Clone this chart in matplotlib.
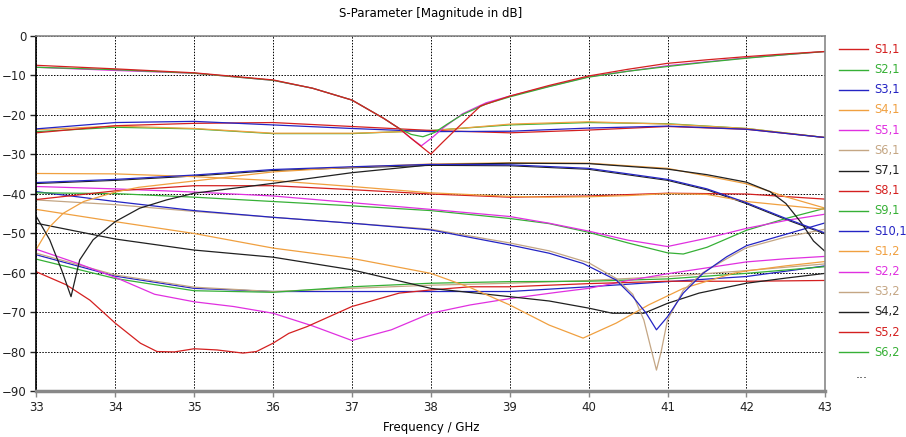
import matplotlib
matplotlib.use('Agg')
import matplotlib.pyplot as plt
from matplotlib.lines import Line2D

RED = '#d42020'
GREEN = '#36b036'
BLUE = '#2424c4'
ORANGE = '#f0a040'
MAGENTA = '#e030e0'
TAN = '#c4a684'
BLACK = '#202020'

# top reflection curves with the dip near 38 GHz
f_top_red = [33, 34, 35, 36, 36.5, 37, 37.4, 37.6, 37.8, 38.0, 38.15, 38.33, 38.63, 39, 39.5, 40, 40.5, 41, 41.5, 42, 42.5, 43]
db_top_red = [-7.5, -8.4, -9.4, -11.2, -13.3, -16.3, -20.9, -23.5, -26.8, -30.0, -27.0, -23.5, -17.8, -15.3, -12.6, -10.2, -8.5, -7.0, -6.1, -5.3, -4.6, -4.0]
f_top_green = [33, 34, 35, 36, 36.5, 37, 37.4, 37.6, 37.75, 37.9, 38.05, 38.2, 38.4, 38.7, 39, 39.5, 40, 40.5, 41, 41.5, 42, 42.5, 43]
db_top_green = [-8.0, -8.6, -9.5, -11.3, -13.3, -16.3, -20.9, -23.5, -25.0, -25.6, -24.5, -22.5, -20.0, -17.3, -15.5, -12.9, -10.5, -9.0, -7.8, -6.7, -5.7, -4.8, -4.0]
f_top_mag = [33, 34, 35, 36, 36.5, 37, 37.4, 37.6, 37.75, 37.88, 38.03, 38.16, 38.4, 38.7, 39, 39.5, 40, 41, 42, 43]
db_top_mag = [-8.0, -8.8, -9.5, -11.3, -13.3, -16.3, -20.9, -23.5, -26.0, -27.9, -25.6, -23.3, -19.8, -17.0, -15.3, -12.8, -10.4, -7.6, -5.6, -4.0]

# coupling curves around -22 .. -26 dB
f_grid = [33, 34, 35, 36, 37, 38, 39, 40, 41, 42, 43]
db_b_blue = [-23.6, -22.0, -21.7, -22.6, -23.5, -24.3, -24.2, -23.4, -22.9, -23.7, -25.8]
db_b_red = [-24.6, -22.8, -22.2, -22.0, -23.0, -24.0, -24.6, -23.9, -23.0, -23.7, -25.8]
db_b_orange = [-23.8, -22.9, -23.5, -24.7, -24.7, -24.1, -22.4, -21.8, -22.4, -23.5, -25.8]
db_b_green = [-24.3, -23.2, -23.6, -24.8, -24.8, -24.0, -22.6, -22.0, -22.3, -23.5, -25.8]

# middle group
f_navy = [33, 34, 35, 36, 37, 38, 39, 40, 41, 41.5, 42, 42.5, 43]
db_navy = [-37.2, -36.4, -35.3, -33.9, -33.2, -32.6, -32.7, -33.6, -36.4, -38.8, -42.3, -46.3, -50.0]
f_orange_flat = [33, 34, 35, 36, 37, 38, 39, 39.5, 40, 40.5, 41, 41.5, 42, 42.5, 43]
db_orange_flat = [-34.9, -35.0, -35.7, -36.7, -38.2, -39.8, -40.7, -40.9, -40.8, -40.5, -40.0, -40.2, -42.0, -43.0, -44.0]
f_black_dip = [33, 33.17, 33.32, 33.44, 33.55, 33.72, 34, 34.31, 34.65, 35, 36, 37, 38, 39, 40, 41, 41.5, 42, 42.3, 42.5, 42.7, 42.85, 43]
db_black_dip = [-45.8, -51.7, -59.3, -66.1, -56.8, -51.7, -47.1, -43.7, -41.6, -39.9, -37.4, -34.7, -32.7, -32.3, -32.4, -33.8, -35.2, -37.1, -39.5, -42.5, -47.5, -52.0, -54.7]
f_orange_rise = [33, 33.17, 33.34, 33.6, 34, 34.3, 35, 36, 37, 38, 39, 40, 41, 42, 42.5, 43]
db_orange_rise = [-54.1, -48.4, -45.0, -42.0, -39.6, -38.4, -36.8, -34.5, -33.3, -32.5, -32.2, -32.3, -33.6, -37.5, -40.8, -43.7]
db_c_red = [-41.5, -39.3, -38.0, -38.0, -39.0, -40.1, -40.9, -40.6, -39.9, -40.1, -41.4]
f_c_mag = [33, 34, 35, 36, 37, 38, 39, 39.5, 40, 40.5, 41, 41.5, 42, 42.5, 43]
db_c_mag = [-38.2, -38.8, -39.6, -40.6, -42.3, -44.0, -45.8, -47.5, -49.5, -51.8, -53.4, -51.3, -48.8, -46.8, -45.2]
f_c_green = [33, 34, 35, 36, 37, 38, 39, 39.5, 40, 40.5, 41, 41.2, 41.5, 42, 42.5, 43]
db_c_green = [-39.8, -40.0, -40.9, -42.0, -43.1, -44.3, -46.3, -47.6, -49.8, -52.5, -55.0, -55.3, -53.6, -49.3, -46.3, -43.7]

# deep resonances near 40.9 GHz
f_dip_blue = [33, 34, 35, 36, 37, 38, 39, 39.5, 39.93, 40.35, 40.56, 40.73, 40.86, 41.0, 41.2, 41.45, 41.75, 42, 42.5, 43]
db_dip_blue = [-39.5, -42.0, -44.3, -46.0, -47.5, -49.2, -53.0, -55.1, -57.7, -61.9, -66.1, -70.3, -74.5, -71.2, -65.2, -60.2, -56.0, -53.2, -50.3, -47.4]
f_dip_tan = [33, 34, 35, 36, 37, 38, 39, 39.5, 40, 40.35, 40.56, 40.7, 40.8, 40.86, 40.92, 41.0, 41.2, 41.45, 41.75, 42, 42.5, 43]
db_dip_tan = [-41.6, -42.8, -44.5, -46.0, -47.5, -49.0, -52.5, -54.5, -57.5, -61.5, -65.5, -72.0, -80.0, -84.7, -80.0, -72.0, -64.5, -60.0, -56.5, -53.7, -51.0, -49.0]

# lower group
f_orange_d = [33, 34, 35, 36, 37, 38, 38.5, 39, 39.5, 39.93, 40.35, 40.76, 41.2, 41.83, 42, 42.5, 43]
db_orange_d = [-44.0, -47.1, -50.1, -53.8, -56.4, -60.2, -63.8, -68.2, -73.3, -76.6, -72.8, -68.2, -64.0, -60.2, -59.6, -58.3, -57.2]
f_black_d = [33, 34, 35, 36, 37, 38, 39, 39.5, 40, 40.3, 40.7, 41, 41.4, 42, 42.5, 43]
db_black_d = [-47.5, -51.5, -54.3, -56.1, -59.3, -64.0, -66.1, -67.2, -69.0, -70.3, -70.3, -67.8, -65.2, -62.7, -61.4, -60.2]
f_low_red = [33, 33.38, 33.68, 34, 34.32, 34.53, 34.75, 35, 35.29, 35.62, 35.79, 36, 36.2, 36.43, 37, 37.6, 38, 38.5, 39, 40, 41, 42, 43]
db_low_red = [-59.8, -63.1, -67.0, -72.8, -77.9, -80.0, -80.1, -79.3, -79.6, -80.4, -80.0, -77.9, -75.4, -73.7, -68.6, -65.2, -64.4, -63.6, -63.6, -62.8, -62.2, -62.2, -62.0]
f_low_mag = [33, 33.5, 34, 34.5, 35, 35.5, 36, 36.5, 37, 37.5, 38, 38.5, 39, 39.6, 40, 40.5, 41, 41.5, 42, 42.5, 43]
db_low_mag = [-54.1, -57.5, -61.2, -65.5, -67.4, -68.6, -70.3, -73.5, -77.2, -74.5, -70.3, -68.2, -66.6, -65.0, -64.0, -62.0, -60.3, -58.8, -57.3, -56.5, -55.9]
db_low_tan = [-55.1, -60.6, -63.7, -64.8, -64.0, -63.2, -62.7, -62.0, -61.0, -59.5, -57.8]
db_low_green = [-56.6, -61.5, -64.6, -65.0, -63.6, -62.7, -62.3, -62.2, -61.6, -60.2, -58.5]
db_low_blue = [-55.5, -60.9, -64.0, -64.8, -64.8, -64.8, -64.8, -63.6, -62.3, -61.0, -58.3]

legend_labels = ['S1,1', 'S2,1', 'S3,1', 'S4,1', 'S5,1', 'S6,1', 'S7,1', 'S8,1',
                 'S9,1', 'S10,1', 'S1,2', 'S2,2', 'S3,2', 'S4,2', 'S5,2', 'S6,2']
legend_colors = [RED, GREEN, BLUE, ORANGE, MAGENTA, TAN, BLACK, RED,
                 GREEN, BLUE, ORANGE, MAGENTA, TAN, BLACK, RED, GREEN]

curves = [
    (f_grid, db_low_blue, BLUE),
    (f_grid, db_low_tan, TAN),
    (f_grid, db_low_green, GREEN),
    (f_low_mag, db_low_mag, MAGENTA),
    (f_low_red, db_low_red, RED),
    (f_black_d, db_black_d, BLACK),
    (f_orange_d, db_orange_d, ORANGE),
    (f_dip_tan, db_dip_tan, TAN),
    (f_dip_blue, db_dip_blue, BLUE),
    (f_c_green, db_c_green, GREEN),
    (f_c_mag, db_c_mag, MAGENTA),
    (f_grid, db_c_red, RED),
    (f_orange_flat, db_orange_flat, ORANGE),
    (f_orange_rise, db_orange_rise, ORANGE),
    (f_black_dip, db_black_dip, BLACK),
    (f_navy, db_navy, BLUE),
    (f_grid, db_b_green, GREEN),
    (f_grid, db_b_orange, ORANGE),
    (f_grid, db_b_red, RED),
    (f_grid, db_b_blue, BLUE),
    (f_top_mag, db_top_mag, MAGENTA),
    (f_top_green, db_top_green, GREEN),
    (f_top_red, db_top_red, RED),
]

W, H = 906, 437
fig = plt.figure(figsize=(W / 100, H / 100), dpi=100)
ax = fig.add_axes([36.3 / W, 1 - 391 / H, (825.3 - 36.3) / W, (391 - 35.7) / H])

for f, db, col in curves:
    ax.plot(f, db, color=col, lw=0.9)
# navy look: a black line under the blue one
ax.plot(f_navy, [v - 0.25 for v in db_navy], color=BLACK, lw=0.8, zorder=1)

ax.set_xlim(33, 43)
ax.set_ylim(-90, 0)
ax.set_xticks(range(33, 44))
ax.set_yticks(range(-90, 1, 10))
ax.grid(True, color='black', linestyle=(0, (1.5, 1.5)), linewidth=0.7)
ax.tick_params(labelsize=8.5, length=4, width=1, colors='#222222', pad=3)
ax.tick_params(axis='x', colors='#888888', labelcolor='#222222')

for side in ['top', 'right']:
    ax.spines[side].set_color('#888888')
    ax.spines[side].set_linewidth(1.2)
ax.spines['bottom'].set_color('#888888')
ax.spines['bottom'].set_linewidth(2.5)
ax.spines['left'].set_color('black')
ax.spines['left'].set_linewidth(1.2)

fig.text(430.8 / W, 1 - 14 / H, 'S-Parameter [Magnitude in dB]', ha='center', va='center', fontsize=8.5)
fig.text(430.8 / W, 1 - 428 / H, 'Frequency / GHz', ha='center', va='center', fontsize=8.5)

for i, (lab, col) in enumerate(zip(legend_labels, legend_colors)):
    y = 1 - (49.3 + 20.2 * i) / H
    fig.add_artist(Line2D([839 / W, 868 / W], [y, y], color=col, lw=1.0))
    fig.text(874 / W, y, lab, color=col, ha='left', va='center', fontsize=8.3)
fig.text(856 / W, 1 - 375 / H, '...', color='#222222', ha='left', va='center', fontsize=9)

fig.savefig('out.png', dpi=100)
